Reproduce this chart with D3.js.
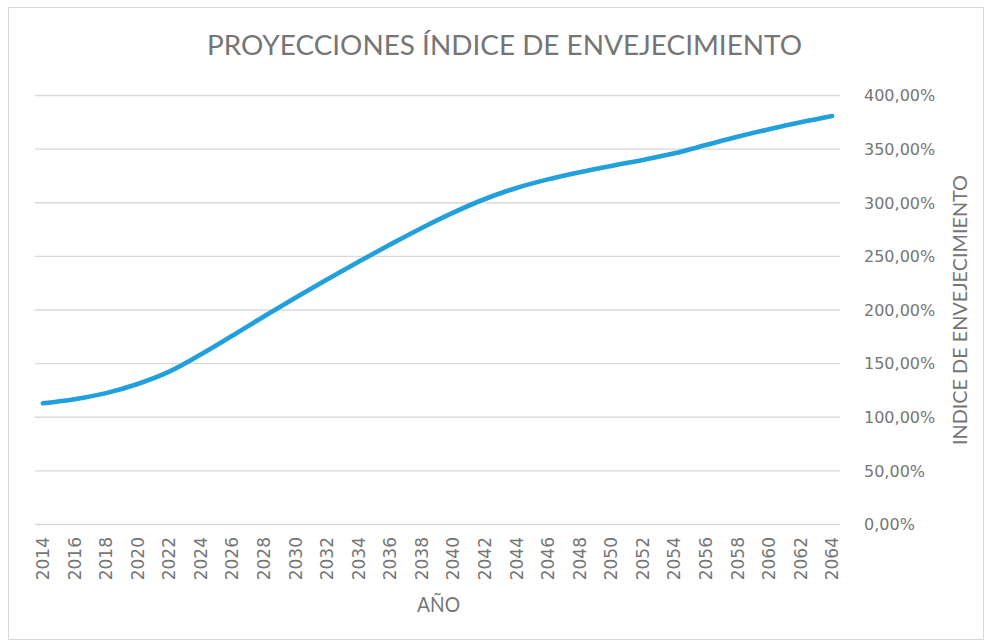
<!DOCTYPE html>
<html><head><meta charset="utf-8">
<script src="https://cdn.jsdelivr.net/npm/d3@7"></script>
<style>html,body{margin:0;padding:0;background:#fff;}svg{display:block;}</style>
</head><body>
<script>
const allYears = d3.range(2014, 2065);
const tickYears = d3.range(2014, 2065, 2);
const years = [2014,2016,2018,2020,2022,2024,2026,2028,2030,2032,2034,2036,2038,2040,2042,2044,2046,2048,2050,2052,2054,2056,2058,2060,2062,2064];
const values = [113.0,116.8,122.5,131.0,142.5,158.5,176.0,194.0,211.5,228.5,245.0,261.0,276.5,290.8,303.5,313.8,321.8,328.4,334.3,339.9,346.1,353.8,361.6,368.5,375.0,380.9];
const yTicks = [0,50,100,150,200,250,300,350,400];
const chartTitle = "PROYECCIONES ÍNDICE DE ENVEJECIMIENTO";
const xTitle = "AÑO";
const yTitle = "INDICE DE ENVEJECIMIENTO";

const W = 987, H = 641;
const svg = d3.select("body").append("svg").attr("width", W).attr("height", H);
svg.append("rect").attr("x", 8.5).attr("y", 7.5).attr("width", 975).attr("height", 632)
  .attr("fill", "#fff").attr("stroke", "#d9d9d9").attr("stroke-width", 1);

const pLeft = 35, pRight = 840, pTop = 95.5, pBottom = 524.5;
const x = d3.scaleBand().domain(allYears).range([pLeft, pRight]);
const y = d3.scaleLinear().domain([0, 400]).range([pBottom, pTop]);
const textColor = "#767676";

// gridlines
svg.append("g").selectAll("line").data(yTicks).join("line")
  .attr("x1", pLeft).attr("x2", pRight)
  .attr("y1", d => y(d)).attr("y2", d => y(d))
  .attr("stroke", "#d9d9d9").attr("stroke-width", 1.3);

// right axis labels
const fmt = v => d3.format(".2f")(v).replace(".", ",") + "%";
svg.append("g").selectAll("text").data(yTicks).join("text")
  .attr("x", 864).attr("y", d => y(d)).attr("dy", "0.36em")
  .attr("font-family", "DejaVu Sans").attr("font-size", 16)
  .attr("fill", textColor).text(fmt);

// bottom axis labels
svg.append("g").selectAll("text").data(tickYears).join("text")
  .attr("transform", d => `translate(${x(d) + x.bandwidth() / 2},537) rotate(-90)`)
  .attr("text-anchor", "end").attr("dy", "0.36em")
  .attr("font-family", "DejaVu Sans").attr("font-size", 17)
  .attr("fill", textColor).text(d => d);

// line
const line = d3.line()
  .x((d, i) => x(years[i]) + x.bandwidth() / 2)
  .y(d => y(d))
  .curve(d3.curveCatmullRom.alpha(0.5));
svg.append("path").datum(values).attr("d", line)
  .attr("fill", "none").attr("stroke", "#21a0db").attr("stroke-width", 4.6)
  .attr("stroke-linecap", "round").attr("stroke-linejoin", "round");

// titles
svg.append("text").attr("x", 504.5).attr("y", 55).attr("text-anchor", "middle")
  .attr("font-family", "Lato").attr("font-size", 27).attr("font-weight", 400)
  .attr("fill", "#757575").attr("textLength", 595).attr("lengthAdjust", "spacingAndGlyphs")
  .text(chartTitle);
svg.append("text").attr("x", 438.5).attr("y", 612).attr("text-anchor", "middle")
  .attr("font-family", "Lato").attr("font-size", 21).attr("font-weight", 400)
  .attr("fill", textColor).attr("textLength", 43).attr("lengthAdjust", "spacingAndGlyphs")
  .text(xTitle);
svg.append("text").attr("transform", "translate(967,310) rotate(-90)").attr("text-anchor", "middle")
  .attr("font-family", "Lato").attr("font-size", 19).attr("font-weight", 400)
  .attr("fill", textColor).attr("textLength", 270).attr("lengthAdjust", "spacingAndGlyphs")
  .text(yTitle);
</script>
</body></html>
